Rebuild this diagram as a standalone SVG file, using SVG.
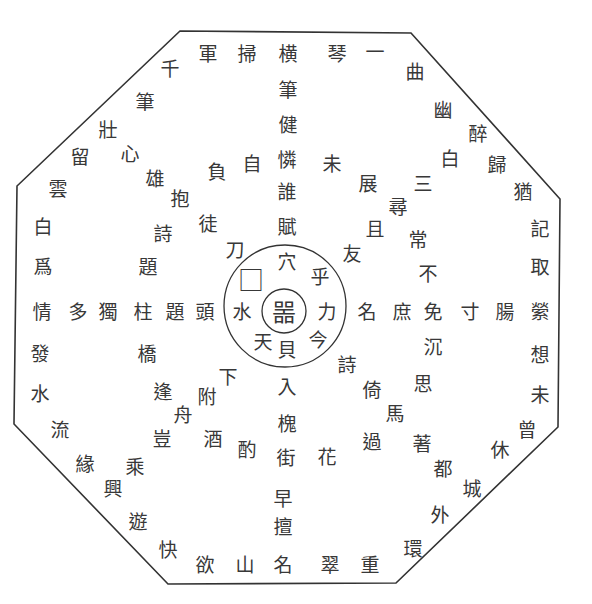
<svg xmlns="http://www.w3.org/2000/svg" width="592" height="604" viewBox="0 0 592 604">
<style>
.f{fill:none;stroke:#333;stroke-width:1.6}
.c{fill:none;stroke:#333;stroke-width:1.3}
text{font-family:"Noto Sans CJK TC","Noto Sans CJK JP",sans-serif;font-size:19px;fill:#383838;text-anchor:middle;dominant-baseline:central}
</style>
<rect width="592" height="604" fill="#fff"/>
<g id="frame">
<polygon class="f" points="180,31 411,33 560,199 558,427 396,583 168,584 14,424 17,186"/>
<circle class="c" cx="285" cy="306" r="61"/>
<circle class="c" cx="284" cy="311" r="22"/>
</g>
<g id="outer-ring">
<text x="375" y="50">一</text><text x="337" y="52">琴</text><text x="288" y="52">横</text><text x="247" y="52">掃</text><text x="208" y="52">軍</text>
<text x="170" y="67">千</text><text x="145" y="100">筆</text><text x="108" y="128">壯</text><text x="80" y="155">留</text><text x="58" y="187">雲</text>
<text x="43" y="225">白</text><text x="43" y="265">爲</text><text x="42" y="310">情</text><text x="40" y="352">發</text><text x="40" y="392">水</text>
<text x="60" y="428">流</text><text x="85" y="462">緣</text><text x="113" y="487">興</text><text x="138" y="520">遊</text><text x="168" y="548">快</text>
<text x="205" y="563">欲</text><text x="245" y="563">山</text><text x="283" y="563">名</text><text x="330" y="563">翠</text><text x="370" y="563">重</text>
<text x="413" y="547">環</text><text x="440" y="513">外</text><text x="472" y="487">城</text><text x="500" y="448">休</text><text x="527" y="428">曾</text>
<text x="540" y="393">未</text><text x="540" y="353">想</text><text x="540" y="310">縈</text><text x="540" y="265">取</text><text x="540" y="227">記</text>
<text x="523" y="190">猶</text><text x="497" y="163">歸</text><text x="478" y="132">醉</text><text x="443" y="108">幽</text><text x="415" y="70">曲</text>
</g>
<g id="middle-ring">
<text x="130" y="152">心</text><text x="155" y="177">雄</text><text x="163" y="232">詩</text><text x="148" y="265">題</text>
<text x="147" y="352">橋</text><text x="163" y="390">逢</text><text x="162" y="437">豈</text><text x="135" y="465">乘</text>
<text x="443" y="467">都</text><text x="422" y="442">著</text><text x="395" y="412">馬</text><text x="423" y="382">思</text><text x="433" y="345">沉</text>
<text x="428" y="272">不</text><text x="418" y="238">常</text><text x="398" y="205">尋</text><text x="423" y="182">三</text><text x="450" y="157">白</text>
</g>
<g id="inner-ring">
<text x="332" y="162">未</text><text x="368" y="182">展</text><text x="375" y="227">且</text><text x="352" y="252">友</text>
<text x="252" y="162">自</text><text x="217" y="170">負</text><text x="180" y="197">抱</text><text x="208" y="222">徒</text><text x="235" y="248">刀</text>
<text x="347" y="363">詩</text><text x="372" y="388">倚</text><text x="372" y="440">過</text><text x="327" y="455">花</text>
<text x="228" y="375">下</text><text x="207" y="395">附</text><text x="183" y="413">舟</text><text x="213" y="437">酒</text><text x="247" y="448">酌</text>
</g>
<g id="cross">
<text x="288" y="88">筆</text><text x="288" y="123">健</text><text x="287" y="158">憐</text><text x="287" y="190">誰</text><text x="287" y="225">賦</text>
<text x="287" y="385">入</text><text x="287" y="422">槐</text><text x="286" y="456">街</text><text x="283" y="497">早</text><text x="283" y="525">擅</text>
<text x="78" y="310">多</text><text x="108" y="310">獨</text><text x="143" y="310">柱</text><text x="175" y="310">題</text><text x="205" y="310">頭</text>
<text x="367" y="310">名</text><text x="402" y="310">庶</text><text x="433" y="310">免</text><text x="470" y="310">寸</text><text x="505" y="310">腸</text>
</g>
<g id="center">
<text x="287" y="260">穴</text><text x="320" y="275">乎</text><text x="327" y="310">力</text><text x="318" y="338">今</text>
<text x="287" y="348">貝</text><text x="263" y="340">天</text><text x="242" y="310">水</text><text x="251" y="278" style="font-size:26px">□</text>
<text x="284" y="310" style="font-size:24px">噐</text>
</g>
</svg>
